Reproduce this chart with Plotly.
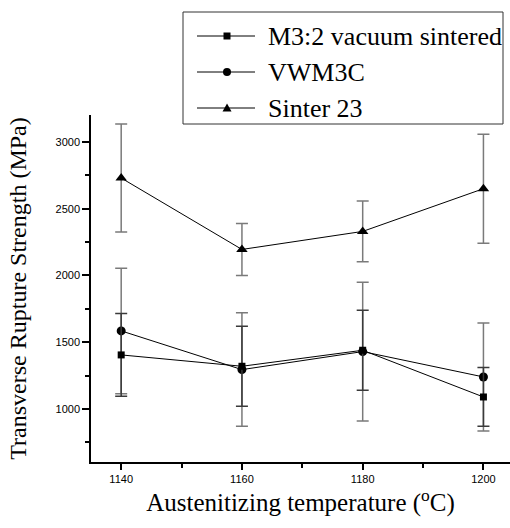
import plotly.graph_objects as go

temps = [1140, 1160, 1180, 1200]

m32_name = "M3:2 vacuum sintered"
m32_vals = [1405, 1320, 1440, 1090]
m32_err = [310, 300, 300, 220]

vwm_name = "VWM3C"
vwm_vals = [1585, 1295, 1430, 1240]
vwm_err = [470, 425, 520, 405]

sint_name = "Sinter 23"
sint_vals = [2730, 2195, 2330, 2650]
sint_err = [405, 195, 228, 408]

W, H = 510, 528
ML, MR, MT, MB = 91, 0, 115, 66
PW, PH = W - ML - MR, H - MT - MB


def px(x):
    return (x - ML) / PW


def py(y):
    return (H - MB - y) / PH


fig = go.Figure()


def add(name, vals, err, symbol, size, ecolor):
    fig.add_trace(go.Scatter(
        x=temps, y=vals, name=name, mode="lines+markers",
        line=dict(color="black", width=1),
        marker=dict(symbol=symbol, size=size, color="black"),
        error_y=dict(type="data", array=err, visible=True, color=ecolor,
                     thickness=1.5, width=6),
        showlegend=False,
    ))


add(sint_name, sint_vals, sint_err, "triangle-up", 10, "#7a7a7a")
add(vwm_name, vwm_vals, vwm_err, "circle", 9, "#7a7a7a")
add(m32_name, m32_vals, m32_err, "square", 7, "#3a3a3a")

# hand-built legend (box, sample lines, markers, labels)
shapes = [dict(type="rect", xref="paper", yref="paper",
               x0=px(183), x1=px(503), y0=py(124), y1=py(12),
               line=dict(color="#333", width=1), fillcolor="white", layer="above")]
annotations = []
rows = [(m32_name, "square", 36), (vwm_name, "circle", 72), (sint_name, "triangle", 108)]
for name, sym, ry in rows:
    shapes.append(dict(type="line", xref="paper", yref="paper",
                       x0=px(197), x1=px(255), y0=py(ry), y1=py(ry),
                       line=dict(color="black", width=1), layer="above"))
    cx = 227
    if sym == "square":
        shapes.append(dict(type="rect", xref="paper", yref="paper",
                           x0=px(cx - 3.5), x1=px(cx + 3.5), y0=py(ry + 3.5), y1=py(ry - 3.5),
                           line=dict(width=0), fillcolor="black", layer="above"))
    elif sym == "circle":
        shapes.append(dict(type="circle", xref="paper", yref="paper",
                           x0=px(cx - 4), x1=px(cx + 4), y0=py(ry + 4), y1=py(ry - 4),
                           line=dict(width=0), fillcolor="black", layer="above"))
    else:
        path = "M{},{} L{},{} L{},{} Z".format(px(cx - 4.5), py(ry + 3.5), px(cx + 4.5), py(ry + 3.5),
                                               px(cx), py(ry - 4.5))
        shapes.append(dict(type="path", xref="paper", yref="paper", path=path,
                           line=dict(width=0), fillcolor="black", layer="above"))
    annotations.append(dict(xref="paper", yref="paper", x=px(266), y=py(ry),
                            xanchor="left", yanchor="middle", showarrow=False, text=name,
                            font=dict(family="Liberation Serif", size=26, color="black")))

fig.update_layout(
    template="none",
    width=W, height=H,
    margin=dict(l=ML, r=MR, t=MT, b=MB),
    plot_bgcolor="white", paper_bgcolor="white",
    font=dict(family="Liberation Serif", color="black"),
    showlegend=False,
    shapes=shapes, annotations=annotations,
)
fig.update_xaxes(
    range=[1135, 1204.4], tickvals=[1140, 1160, 1180, 1200], automargin=False,
    showline=True, linecolor="black", linewidth=1.5, mirror=False,
    ticks="outside", ticklen=6, tickcolor="black", tickwidth=1.5,
    minor=dict(tickvals=[1150, 1170, 1190], ticks="outside", ticklen=4, tickcolor="black", tickwidth=1.5),
    showgrid=False, zeroline=False,
    tickfont=dict(family="Liberation Sans", size=11, color="black"),
    title=dict(text="Austenitizing temperature (<sup>o</sup>C)",
               font=dict(family="Liberation Serif", size=25, color="black"), standoff=10),
)
fig.update_yaxes(
    range=[603, 3202], tickvals=[1000, 1500, 2000, 2500, 3000], automargin=False,
    showline=True, linecolor="black", linewidth=1.5, mirror=False,
    ticks="outside", ticklen=7, tickcolor="black", tickwidth=1.5,
    minor=dict(tickvals=[750, 1250, 1750, 2250, 2750], ticks="outside", ticklen=4, tickcolor="black", tickwidth=1.5),
    showgrid=False, zeroline=False,
    tickfont=dict(family="Liberation Sans", size=11, color="black"),
    title=dict(text="Transverse Rupture Strength (MPa)",
               font=dict(family="Liberation Serif", size=24, color="black"), standoff=22),
)

fig.write_html("out.html", config={"displayModeBar": False},
               post_script="document.body.style.margin='0';document.body.style.overflow='hidden';")
